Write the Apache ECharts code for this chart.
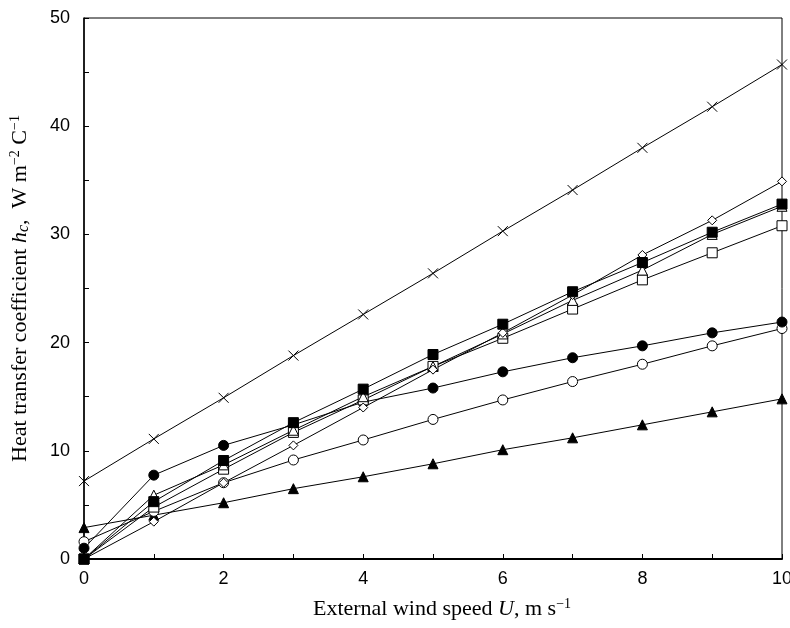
<!DOCTYPE html>
<html>
<head>
<meta charset="utf-8">
<script src="https://cdn.jsdelivr.net/npm/echarts@6/dist/echarts.min.js"></script>
<style>html,body{margin:0;padding:0;background:#fff}#c{width:790px;height:628px}</style>
</head>
<body>
<div id="c"></div>
<script>
const windSpeed = [0,1,2,3,4,5,6,7,8,9,10];
const crossSeries    = [7.2,11.1,14.9,18.8,22.6,26.4,30.3,34.1,38.0,41.8,45.7];
const diamondSeries  = [0,3.45,7.05,10.5,14.0,17.5,20.9,24.4,28.1,31.3,34.9];
const openTriSeries  = [0,5.9,8.7,11.9,15.0,17.8,20.8,23.9,26.7,30.0,32.6];
const openSqSeries   = [0,4.8,8.3,11.7,14.7,17.8,20.4,23.1,25.8,28.3,30.8];
const fillSqSeries   = [0,5.3,9.1,12.6,15.7,18.9,21.7,24.7,27.4,30.2,32.8];
const fillCirSeries  = [1.0,7.75,10.5,12.4,14.5,15.8,17.3,18.6,19.7,20.9,21.9];
const openCirSeries  = [1.6,4.4,7.05,9.15,11.0,12.9,14.7,16.4,18.0,19.7,21.3];
const fillTriSeries  = [2.9,4.05,5.2,6.5,7.6,8.8,10.1,11.2,12.4,13.6,14.8];

function pairs(arr){ return windSpeed.map((x,i)=>[x,arr[i]]); }

function mk(data, symbol, size, filled){
  return {
    type:'line', data:pairs(data), symbol:symbol, symbolSize:size,
    showSymbol:true,
    lineStyle:{color:'#000', width:1},
    itemStyle:{color: filled ? '#000' : '#fff', borderColor:'#000', borderWidth:1, opacity:1},
    emphasis:{disabled:true}, animation:false
  };
}

const chart = echarts.init(document.getElementById('c'), null, {renderer:'canvas'});
chart.setOption({
  animation:false,
  backgroundColor:'#fff',
  grid:{left:84, right:8, top:18, bottom:69, containLabel:false, outerBoundsMode:'none',
    show:true, borderColor:'#000', borderWidth:1, backgroundColor:'transparent'},
  xAxis:{
    type:'value', min:0, max:10, interval:1,
    axisLine:{show:true, onZero:false, lineStyle:{color:'#000', width:2}},
    axisTick:{show:true, inside:true, length:5, lineStyle:{color:'#000', width:1}},
    splitLine:{show:false},
    axisLabel:{color:'#000', fontFamily:'Liberation Sans', fontSize:18, margin:11,
      formatter:v => (v%2===0 ? String(v) : '')},
    name:'{n|External wind speed }{i|U}{n|, m s}{s|−1}',
    nameLocation:'middle', nameGap:38,
    nameTextStyle:{padding:[0,0,0,18], rich:{
      n:{fontFamily:'Liberation Serif', fontSize:22, color:'#000'},
      i:{fontFamily:'Liberation Serif', fontSize:22, fontStyle:'italic', color:'#000'},
      s:{fontFamily:'Liberation Serif', fontSize:14, color:'#000', verticalAlign:'top', padding:[0,0,10,0]}
    }}
  },
  yAxis:{
    type:'value', min:0, max:50, interval:5,
    axisLine:{show:true, lineStyle:{color:'#000', width:1.5}},
    axisTick:{show:true, inside:true, length:5, lineStyle:{color:'#000', width:1}},
    splitLine:{show:false},
    axisLabel:{color:'#000', fontFamily:'Liberation Sans', fontSize:18, margin:14,
      formatter:v => (v%10===0 ? String(v) : '')},
    name:'{n|Heat transfer coefficient }{i|h}{si|c}{n|,  W m}{s|−2}{n| C}{s|−1}',
    nameLocation:'middle', nameGap:52, nameRotate:90,
    nameTextStyle:{rich:{
      n:{fontFamily:'Liberation Serif', fontSize:22, color:'#000'},
      i:{fontFamily:'Liberation Serif', fontSize:22, fontStyle:'italic', color:'#000'},
      si:{fontFamily:'Liberation Serif', fontSize:16, fontStyle:'italic', color:'#000', verticalAlign:'bottom'},
      s:{fontFamily:'Liberation Serif', fontSize:14, color:'#000', verticalAlign:'top', padding:[0,0,10,0]}
    }}
  },
  series:[
    mk(crossSeries, 'path://M0,0L10,10M10,0L0,10', 10, false),
    mk(fillTriSeries, 'triangle', 10, true),
    mk(openCirSeries, 'circle', 10, false),
    mk(fillCirSeries, 'circle', 10, true),
    mk(openSqSeries, 'rect', 10, false),
    mk(openTriSeries, 'triangle', 10, false),
    mk(diamondSeries, 'diamond', 9, false),
    mk(fillSqSeries, 'rect', 10, true)
  ]
});
</script>
</body>
</html>
